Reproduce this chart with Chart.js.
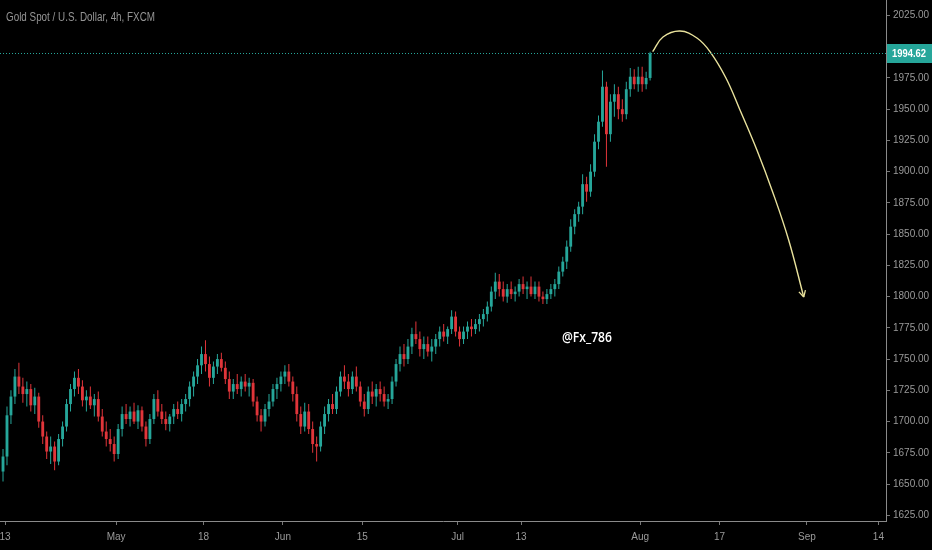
<!DOCTYPE html>
<html>
<head>
<meta charset="utf-8">
<script src="https://cdn.jsdelivr.net/npm/chart.js@4.4.1/dist/chart.umd.min.js"></script>
<style>
  html, body { margin: 0; padding: 0; background: #000; }
  canvas { display: block; }
</style>
</head>
<body>
<canvas id="chart" width="932" height="550"></canvas>
<script>
// Gold Spot / USD, 4h chart (FXCM) - candles, 2 per trading day

const opens = [
  1660,1672,1705,1720,1736,1728,1722,1726,1713,1720,1700,
  1688,1676,1680,1668,1686,1696,1714,1726,1735,1728,
  1717,1720,1713,1718,1704,1692,1686,1682,1674,1694,
  1706,1702,1708,1700,1709,1696,1686,1702,1718,1708,
  1702,1698,1704,1710,1706,1714,1718,1728,1736,1745,
  1754,1746,1735,1744,1750,1743,1734,1724,1730,1726,
  1732,1728,1731,1716,1705,1700,1710,1716,1726,1730,
  1736,1740,1732,1722,1706,1696,1708,1694,1682,1680,
  1696,1706,1714,1710,1724,1736,1732,1726,1736,1728,
  1716,1710,1724,1720,1726,1722,1716,1718,1732,1746,
  1754,1750,1760,1770,1766,1758,1762,1756,1760,1766,
  1772,1768,1774,1784,1772,1766,1772,1776,1774,1778,
  1782,1786,1792,1804,1812,1806,1800,1806,1802,1804,
  1810,1806,1808,1802,1808,1800,1798,1802,1806,1810,
  1820,1828,1840,1856,1866,1872,1890,1884,1900,1924,
  1940,1968,1930,1956,1962,1950,1946,1966,1976,1970,
  1976,1970,1975
];
const highs = [
  1678,1712,1725,1742,1747,1735,1732,1730,1727,1723,1705,
  1692,1688,1684,1690,1700,1718,1730,1740,1742,1733,
  1725,1728,1722,1724,1710,1700,1694,1688,1698,1712,
  1714,1712,1715,1713,1712,1700,1706,1722,1725,1714,
  1708,1706,1714,1716,1718,1722,1732,1740,1750,1760,
  1765,1752,1748,1754,1755,1748,1740,1734,1738,1736,
  1738,1735,1734,1720,1710,1714,1722,1730,1735,1740,
  1745,1746,1736,1728,1712,1715,1714,1700,1688,1700,
  1712,1718,1722,1728,1740,1745,1738,1740,1744,1732,
  1722,1728,1732,1730,1732,1728,1722,1736,1750,1760,
  1762,1766,1775,1780,1772,1768,1768,1766,1770,1776,
  1778,1776,1789,1788,1776,1776,1780,1782,1782,1786,
  1790,1796,1808,1819,1818,1812,1810,1812,1808,1814,
  1816,1812,1816,1812,1812,1804,1806,1810,1814,1824,
  1832,1845,1862,1870,1876,1898,1896,1906,1930,1945,
  1981,1972,1962,1970,1968,1958,1972,1983,1982,1984,
  1984,1980,1996
];
const lows = [
  1652,1665,1698,1714,1722,1715,1712,1708,1706,1695,1682,
  1670,1666,1661,1665,1680,1692,1708,1720,1722,1712,
  1708,1710,1704,1700,1688,1680,1676,1668,1670,1688,
  1698,1696,1698,1694,1692,1680,1682,1698,1704,1698,
  1693,1692,1698,1702,1700,1708,1712,1720,1730,1738,
  1740,1728,1730,1738,1740,1730,1718,1718,1722,1720,
  1724,1720,1712,1700,1692,1696,1704,1712,1718,1724,
  1730,1728,1716,1700,1690,1692,1690,1675,1668,1676,
  1690,1700,1706,1706,1720,1726,1720,1722,1724,1712,
  1704,1706,1714,1712,1716,1712,1710,1714,1728,1740,
  1744,1746,1754,1762,1752,1750,1752,1748,1754,1760,
  1764,1762,1770,1768,1760,1762,1766,1768,1770,1772,
  1776,1780,1788,1798,1800,1796,1795,1798,1796,1800,
  1802,1798,1800,1798,1796,1794,1794,1798,1800,1806,
  1816,1822,1836,1850,1860,1866,1876,1880,1896,1918,
  1936,1904,1924,1944,1942,1940,1942,1960,1966,1964,
  1964,1966,1973
];
const closes = [
  1672,1705,1720,1736,1728,1722,1726,1713,1720,1700,1688,
  1676,1680,1668,1686,1696,1714,1726,1735,1728,1717,
  1720,1713,1718,1704,1692,1686,1682,1674,1694,1706,
  1702,1708,1700,1709,1696,1686,1702,1718,1708,1702,
  1698,1704,1710,1706,1714,1718,1728,1736,1745,1754,
  1746,1735,1744,1750,1743,1734,1724,1730,1726,1732,
  1728,1731,1716,1705,1700,1710,1716,1726,1730,1736,
  1740,1732,1722,1706,1696,1708,1694,1682,1680,1696,
  1706,1714,1710,1724,1736,1732,1726,1736,1728,1716,
  1710,1724,1720,1726,1722,1716,1718,1732,1746,1754,
  1750,1760,1770,1766,1758,1762,1756,1760,1766,1772,
  1768,1774,1784,1772,1766,1772,1776,1774,1778,1782,
  1786,1792,1804,1812,1806,1800,1806,1802,1804,1810,
  1806,1808,1802,1808,1800,1798,1802,1806,1810,1820,
  1828,1840,1856,1866,1872,1890,1884,1900,1924,1940,
  1968,1930,1956,1962,1950,1946,1966,1976,1970,1976,
  1970,1975,1994.62
];

const lastPrice = 1994.62;

// time axis is in trading days from Apr 13 (weekends collapsed like TradingView)
const tickLabels = ['13', 'May', '18', 'Jun', '15', 'Jul', '13', 'Aug', '17', 'Sep', '14'];
const tickDays   = [0, 14, 25, 35, 45, 57, 65, 80, 90, 101, 110];
// 2000.00 sits under the last price label, so it is not listed
const priceTicks = [1625, 1650, 1675, 1700, 1725, 1750, 1775, 1800, 1825, 1850, 1875,
                    1900, 1925, 1950, 1975, 2025];

// drawn forecast arrow (day, price)
const arrowDays   = [81.57, 82.87, 85.01, 87.15, 88.79, 90.8, 92.57, 94.7, 96.73, 98.7, 100.6];
const arrowPrices = [1996.1, 2007.8, 2012.6, 2007.0, 1996.1, 1975.0, 1949.4, 1917.4, 1883.0, 1845.3, 1799.7];

const UP = '#26a69a';
const DOWN = '#e0353a';
const ARROW = '#e9e29c';

// each candle covers half a trading day, first one starts half a day before Apr 13
function candleDay(i) {
    return i * 0.5 - 0.25;
}

const candleColors = closes.map((c, i) => c >= opens[i] ? UP : DOWN);
const wickData = closes.map((c, i) => ({ x: candleDay(i), y: [lows[i], highs[i]] }));
const bodyData = closes.map((c, i) => ({ x: candleDay(i), y: [opens[i], c] }));
const arrowData = arrowDays.map((d, i) => ({ x: d, y: arrowPrices[i] }));

const overlay = {
    id: 'overlay',
    beforeDraw(chart) {
        const ctx = chart.ctx;
        ctx.save();
        ctx.fillStyle = '#000';
        ctx.fillRect(0, 0, chart.width, chart.height);
        ctx.restore();
    },
    afterDatasetsDraw(chart) {
        const { ctx, chartArea } = chart;
        const y = chart.scales.y;
        const x = chart.scales.x;
        ctx.save();

        // dotted last price line
        const py = Math.round(y.getPixelForValue(lastPrice)) + 0.5;
        ctx.strokeStyle = UP;
        ctx.lineWidth = 1;
        ctx.setLineDash([1, 2]);
        ctx.beginPath();
        ctx.moveTo(chartArea.left, py);
        ctx.lineTo(chartArea.right, py);
        ctx.stroke();
        ctx.setLineDash([]);

        // arrow head at the end of the curve
        const pts = chart.getDatasetMeta(2).data;
        const tip = pts[pts.length - 1];
        const prev = pts[pts.length - 2];
        const ang = Math.atan2(tip.y - prev.y, tip.x - prev.x);
        ctx.strokeStyle = ARROW;
        ctx.lineWidth = 1.3;
        ctx.beginPath();
        [0.5, -0.5].forEach(da => {
            ctx.moveTo(tip.x, tip.y);
            ctx.lineTo(tip.x - 7 * Math.cos(ang + da), tip.y - 7 * Math.sin(ang + da));
        });
        ctx.stroke();

        // watermark
        ctx.fillStyle = '#ffffff';
        ctx.font = '600 15px "Open Sans", sans-serif';
        ctx.textAlign = 'center';
        ctx.textBaseline = 'middle';
        ctx.fillText('@Fx_786', x.getPixelForValue(73.3), y.getPixelForValue(1767), 50);
        ctx.restore();
    },
    afterDraw(chart) {
        const { ctx, chartArea } = chart;
        const y = chart.scales.y;
        ctx.save();

        // price label on the axis
        const py = Math.round(y.getPixelForValue(lastPrice));
        ctx.fillStyle = UP;
        ctx.fillRect(chartArea.right + 1, py - 9, chart.width - chartArea.right - 1, 19);
        ctx.fillStyle = '#ffffff';
        ctx.font = 'bold 11px "Liberation Sans", sans-serif';
        ctx.textBaseline = 'middle';
        ctx.fillText('1994.62', chartArea.right + 6, py + 1, 34);

        // title
        ctx.fillStyle = '#959595';
        ctx.font = '12px "Liberation Sans", sans-serif';
        ctx.textBaseline = 'alphabetic';
        ctx.fillText('Gold Spot / U.S. Dollar, 4h, FXCM', 6, 21, 149);
        ctx.restore();
    }
};

new Chart(document.getElementById('chart'), {
    type: 'bar',
    data: {
        datasets: [
            {
                label: 'wicks',
                data: wickData,
                backgroundColor: candleColors,
                borderWidth: 0,
                grouped: false,
                maxBarThickness: 1,
                order: 3
            },
            {
                label: 'bodies',
                data: bodyData,
                backgroundColor: candleColors,
                borderWidth: 0,
                grouped: false,
                maxBarThickness: 3,
                minBarLength: 1,
                order: 2
            },
            {
                type: 'line',
                label: 'forecast',
                data: arrowData,
                borderColor: ARROW,
                borderWidth: 1.4,
                pointRadius: 0,
                tension: 0.4,
                fill: false,
                order: 1
            }
        ]
    },
    options: {
        responsive: false,
        devicePixelRatio: 1,
        animation: false,
        layout: { padding: 0 },
        plugins: {
            legend: { display: false },
            tooltip: { enabled: false }
        },
        scales: {
            x: {
                type: 'linear',
                min: -0.63,
                max: 110.96,
                offset: false,
                bounds: 'data',
                afterBuildTicks: s => { s.ticks = tickDays.map(v => ({ value: v })); },
                afterFit: s => { s.height = 29; s.paddingLeft = 0; s.paddingRight = 0; },
                ticks: {
                    autoSkip: false,
                    maxRotation: 0,
                    padding: 6,
                    color: '#9a9a9a',
                    font: { size: 10, family: '"Liberation Sans", sans-serif' },
                    callback: (v, i) => tickLabels[i]
                },
                grid: { drawOnChartArea: false, offset: false, tickLength: 4, color: '#777' },
                border: { display: true, color: '#8a8a8a' }
            },
            y: {
                type: 'linear',
                position: 'right',
                min: 1620.4,
                max: 2037.4,
                bounds: 'data',
                afterBuildTicks: s => { s.ticks = priceTicks.map(v => ({ value: v })); },
                afterFit: s => { s.width = 46; s.paddingTop = 0; s.paddingBottom = 0; },
                ticks: {
                    autoSkip: false,
                    padding: 3,
                    color: '#9a9a9a',
                    font: { size: 10, family: '"Liberation Sans", sans-serif' },
                    callback: v => Number(v).toFixed(2)
                },
                grid: { drawOnChartArea: false, offset: false, tickLength: 4, color: '#777' },
                border: { display: true, color: '#8a8a8a' }
            }
        }
    },
    plugins: [overlay]
});
</script>
</body>
</html>
